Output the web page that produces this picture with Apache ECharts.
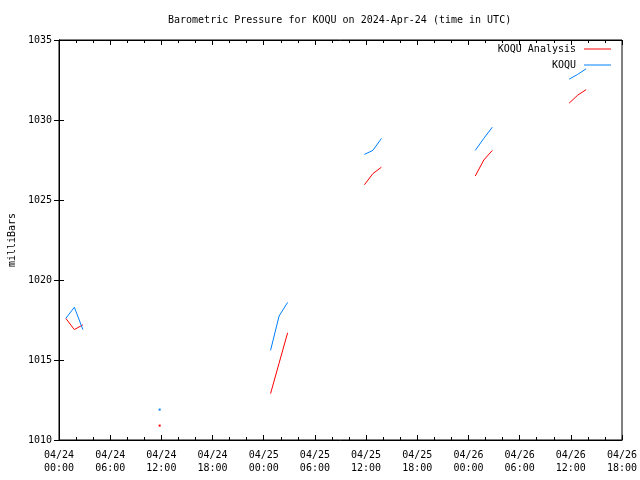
<!DOCTYPE html>
<html>
<head>
<meta charset="utf-8">
<script src="https://cdn.jsdelivr.net/npm/echarts@6/dist/echarts.min.js"></script>
<style>html,body{margin:0;padding:0;background:#fff;}#c{width:640px;height:480px;}</style>
</head>
<body>
<div id="c"></div>
<script>
// Hours since 2024-04-24 00:00 UTC (null = gap between segments)
const hours = [0.8, 1.8, 2.8, null, 11.8, null, 24.8, 25.8, 26.8, null, 35.8, 36.8, 37.8, null, 48.8, 49.8, 50.8, null, 59.8, 60.8, 61.8];
const analysisValues = [1017.6, 1016.9, 1017.2, null, 1010.9, null, 1012.9, 1014.8, 1016.7, null, 1025.95, 1026.65, 1027.05, null, 1026.5, 1027.5, 1028.1, null, 1031.05, 1031.55, 1031.9];
const stationValues = [1017.6, 1018.3, 1016.9, null, 1011.9, null, 1015.6, 1017.75, 1018.6, null, 1027.85, 1028.1, 1028.85, null, 1028.1, 1028.85, 1029.55, null, 1032.55, 1032.85, 1033.2];
const xTickLabels = ['04/24\n00:00', '04/24\n06:00', '04/24\n12:00', '04/24\n18:00', '04/25\n00:00', '04/25\n06:00', '04/25\n12:00', '04/25\n18:00', '04/26\n00:00', '04/26\n06:00', '04/26\n12:00', '04/26\n18:00'];
const seriesNames = ['KOQU Analysis', 'KOQU'];
const titleText = 'Barometric Pressure for KOQU on 2024-Apr-24 (time in UTC)';
const yAxisName = 'milliBars';

const FONT = 'DejaVu Sans Mono';

function buildData(vals) {
  return vals.map(function (v, i) {
    if (v === null || hours[i] === null) return ['-', '-'];
    const prevNull = i === 0 || vals[i - 1] === null;
    const nextNull = i === vals.length - 1 || vals[i + 1] === null;
    if (prevNull && nextNull) {
      return { value: [hours[i], v], symbol: 'rect', symbolSize: 2 };
    }
    return [hours[i], v];
  });
}

const chart = echarts.init(document.getElementById('c'), null, { renderer: 'canvas' });
const tickCommon = { min: 0, max: 66, interval: 6, type: 'value' };
const lineIcon = 'path://M0,0L27,0L27,1L0,1Z';
chart.setOption({
  animation: false,
  backgroundColor: '#ffffff',
  title: {
    text: titleText,
    left: 163, top: 10,
    textStyle: { fontFamily: FONT, fontSize: 10, fontWeight: 'normal', color: '#000' }
  },
  legend: {
    orient: 'vertical',
    align: 'right',
    right: 24, top: 39,
    itemWidth: 27, itemHeight: 10, itemGap: 6,
    symbolKeepAspect: true,
    itemStyle: { borderWidth: 0 },
    textStyle: { fontFamily: FONT, fontSize: 10, color: '#000', padding: [0, 3, 0, 0] },
    data: [
      { name: seriesNames[0], icon: lineIcon },
      { name: seriesNames[1], icon: lineIcon }
    ]
  },
  grid: {
    left: 59, right: 18, top: 40, bottom: 40,
    show: true, borderColor: '#000', borderWidth: 1,
    containLabel: false, outerBoundsMode: 'none'
  },
  xAxis: [
    Object.assign({}, tickCommon, {
      position: 'bottom',
      axisLine: { show: true, lineStyle: { color: '#000', width: 1 } },
      axisTick: { show: true, inside: true, length: 5, lineStyle: { color: '#000' } },
      minorTick: { show: true, splitNumber: 3, length: 3, lineStyle: { color: '#000' } },
      splitLine: { show: false },
      axisLabel: {
        fontFamily: FONT, fontSize: 10, color: '#000', margin: 9, lineHeight: 13,
        formatter: function (v) { return xTickLabels[Math.round(v / 6)] || ''; }
      }
    }),
    Object.assign({}, tickCommon, {
      position: 'top',
      axisLine: { show: true, lineStyle: { color: '#000', width: 1 } },
      axisTick: { show: true, inside: true, length: 5, lineStyle: { color: '#000' } },
      minorTick: { show: true, splitNumber: 3, length: 3, lineStyle: { color: '#000' } },
      splitLine: { show: false },
      axisLabel: { show: false }
    })
  ],
  yAxis: [
    {
      type: 'value', min: 1010, max: 1035, interval: 5, position: 'left',
      name: yAxisName, nameLocation: 'middle', nameGap: 42, nameRotate: 90,
      nameTextStyle: { fontFamily: FONT, fontSize: 10, color: '#000' },
      axisLine: { show: true, lineStyle: { color: '#000', width: 1 } },
      axisTick: { show: true, inside: true, length: 5, lineStyle: { color: '#000' } },
      splitLine: { show: false },
      axisLabel: {
        fontFamily: FONT, fontSize: 10, color: '#000', margin: 7,
        formatter: function (v) { return String(v); }
      }
    },
    {
      type: 'value', min: 1010, max: 1035, interval: 5, position: 'right',
      axisLine: { show: true, lineStyle: { color: '#000', width: 1 } },
      axisTick: { show: true, inside: true, length: 5, lineStyle: { color: '#000' } },
      splitLine: { show: false },
      axisLabel: { show: false }
    }
  ],
  series: [
    {
      name: seriesNames[0], type: 'line', xAxisIndex: 0, yAxisIndex: 0,
      data: buildData(analysisValues),
      symbol: 'none', showSymbol: true, connectNulls: false,
      color: '#ff0000',
      lineStyle: { color: '#ff0000', width: 1 },
      itemStyle: { color: '#ff0000' }
    },
    {
      name: seriesNames[1], type: 'line', xAxisIndex: 0, yAxisIndex: 0,
      data: buildData(stationValues),
      symbol: 'none', showSymbol: true, connectNulls: false,
      color: '#0080ff',
      lineStyle: { color: '#0080ff', width: 1 },
      itemStyle: { color: '#0080ff' }
    }
  ]
});
</script>
</body>
</html>
